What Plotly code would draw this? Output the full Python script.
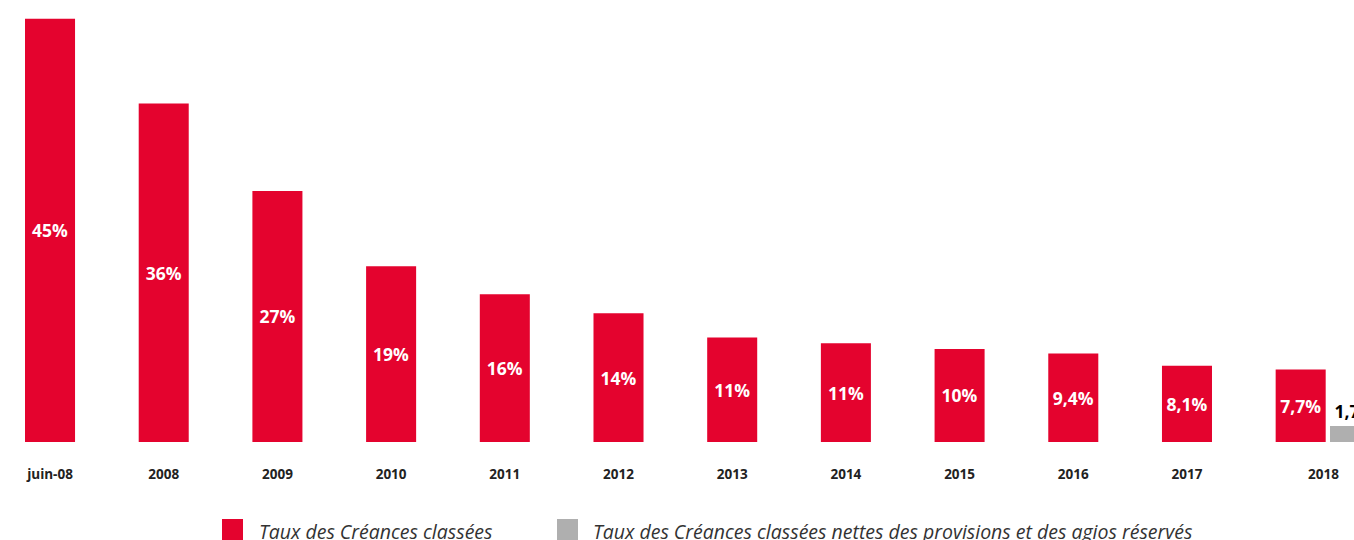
import plotly.graph_objects as go

categories = ["juin-08", "2008", "2009", "2010", "2011", "2012", "2013",
              "2014", "2015", "2016", "2017", "2018"]
taux_classees = [45.0, 36.0, 26.7, 18.7, 15.7, 13.7, 11.1, 10.5, 9.9, 9.4, 8.1, 7.7]
taux_classees_labels = ["45%", "36%", "27%", "19%", "16%", "14%", "11%", "11%",
                        "10%", "9,4%", "8,1%", "7,7%"]
taux_nettes = [1.7]
taux_nettes_labels = ["1,7%"]
nettes_categories = ["2018"]

RED = "#E4032E"
GREY = "#AFAFAF"
BAR_W = 0.44

xs = list(range(len(categories)))
grey_x = [categories.index(c) for c in nettes_categories]
# the last category holds two bars, so its label sits between them
tick_pos = [i + (0.2 if c in nettes_categories else 0) for i, c in enumerate(categories)]

fig = go.Figure()
fig.add_trace(go.Bar(
    x=xs, y=taux_classees, width=BAR_W, offset=-BAR_W / 2,
    marker=dict(color=RED, line=dict(width=0)),
    text=taux_classees_labels, textposition="inside", insidetextanchor="middle",
    textangle=0, constraintext="none",
    textfont=dict(family="Open Sans", size=17.5, color="white", weight="bold"),
    name="Taux des Créances classées", showlegend=False,
))
fig.add_trace(go.Bar(
    x=grey_x, y=taux_nettes, width=BAR_W, offset=0.258,
    marker=dict(color=GREY, line=dict(width=0)),
    text=taux_nettes_labels, textposition="outside", textangle=0,
    constraintext="none",
    textfont=dict(family="Open Sans", size=17.5, color="black", weight="bold"),
    cliponaxis=True,
    name="Taux des Créances classées nettes des provisions et des agios réservés",
    showlegend=False,
))

fig.update_layout(
    width=1354, height=540,
    margin=dict(l=0, r=0, t=0, b=98),
    plot_bgcolor="white", paper_bgcolor="white",
    barmode="overlay",
    xaxis=dict(range=[-0.44, 11.469], tickmode="array", tickvals=tick_pos, ticktext=categories,
               showgrid=False, zeroline=False, showline=False, ticks="",
               ticklabelstandoff=22,
               tickfont=dict(family="Open Sans", size=13.5, color="#222", weight="bold")),
    yaxis=dict(range=[0, 47], visible=False),
    showlegend=False,
)

fig.add_shape(type="rect", xref="paper", yref="paper",
              x0=222 / 1354, x1=243 / 1354, y0=-(519 - 442) / 442, y1=-(541 - 442) / 442,
              fillcolor=RED, line=dict(width=0))
fig.add_shape(type="rect", xref="paper", yref="paper",
              x0=557 / 1354, x1=578 / 1354, y0=-(519 - 442) / 442, y1=-(541 - 442) / 442,
              fillcolor=GREY, line=dict(width=0))
fig.add_annotation(xref="paper", yref="paper", x=257 / 1354, y=-(531 - 442) / 442,
                   xanchor="left", yanchor="middle", showarrow=False,
                   text="<i>Taux des Créances classées</i>",
                   font=dict(family="Open Sans", size=19.5, color="#333"))
fig.add_annotation(xref="paper", yref="paper", x=591 / 1354, y=-(531 - 442) / 442,
                   xanchor="left", yanchor="middle", showarrow=False,
                   text="<i>Taux des Créances classées nettes des provisions et des agios réservés</i>",
                   font=dict(family="Open Sans", size=19.5, color="#333"))

fig.write_html("out.html", config={"displayModeBar": False},
               post_script="document.body.style.margin='0';document.body.style.overflow='hidden';")
